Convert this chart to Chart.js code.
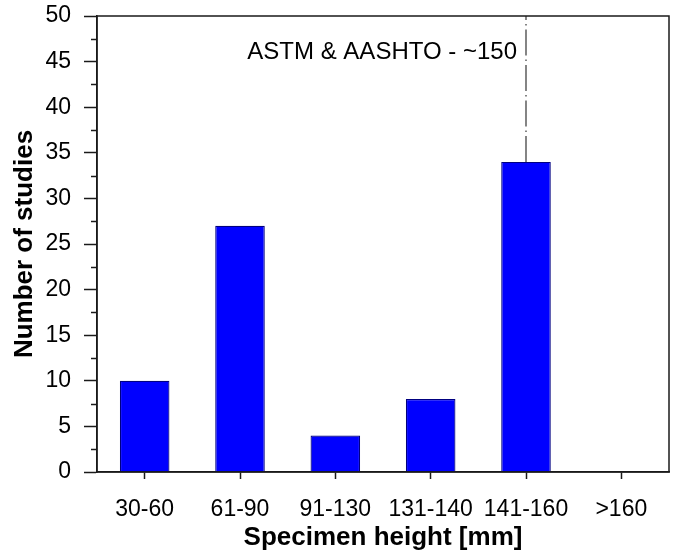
<!DOCTYPE html>
<html>
<head>
<meta charset="utf-8">
<script src="https://cdn.jsdelivr.net/npm/chart.js@4"></script>
<style>
  html, body { margin: 0; padding: 0; background: #fff; }
</style>
</head>
<body>
<canvas id="chart" width="681" height="557"></canvas>
<script>
// --- data ---
const heightClasses = ["30-60", "61-90", "91-130", "131-140", "141-160", ">160"];
const studyCounts = [10, 27, 4, 8, 34, 0];
const yMin = 0;
const yMax = 50;
const yStep = 5;

// standard specimen height marker (dash-dot line above the 141-160 bar)
const standardClass = "141-160";
const standardFrom = 34;
const standardTo = 50;
const standardLabel = "ASTM & AASHTO - ~150";
const standardLabelAt = 46;

const font = "Arial, 'Liberation Sans', sans-serif";
const ink = "#1a1a1a";

const extrasPlugin = {
  id: "extras",
  afterDatasetsDraw(chart) {
    const { ctx, chartArea: a, scales: { x, y } } = chart;
    ctx.save();

    // minor y ticks
    ctx.strokeStyle = ink;
    ctx.lineWidth = 1.5;
    for (let v = yMin + yStep / 2; v < yMax; v += yStep) {
      const py = Math.round(y.getPixelForValue(v)) + 0.5;
      ctx.beginPath();
      ctx.moveTo(a.left - 6, py);
      ctx.lineTo(a.left, py);
      ctx.stroke();
    }

    // dash-dot standard line
    const px = x.getPixelForValue(heightClasses.indexOf(standardClass));
    ctx.strokeStyle = "#444";
    ctx.lineWidth = 1.3;
    ctx.setLineDash([26, 4, 1.5, 4]);
    ctx.beginPath();
    ctx.moveTo(px, y.getPixelForValue(standardFrom));
    ctx.lineTo(px, y.getPixelForValue(standardTo));
    ctx.stroke();
    ctx.setLineDash([]);

    ctx.fillStyle = "#000";
    ctx.font = "24px " + font;
    ctx.textAlign = "right";
    ctx.textBaseline = "middle";
    ctx.fillText(standardLabel, px - 9, y.getPixelForValue(standardLabelAt));

    // frame around plot
    ctx.strokeStyle = ink;
    ctx.lineWidth = 1.5;
    ctx.strokeRect(a.left, a.top, a.right - a.left, a.bottom - a.top);
    ctx.restore();
  }
};

new Chart(document.getElementById("chart"), {
  type: "bar",
  data: {
    labels: heightClasses,
    datasets: [{
      label: "Number of studies",
      data: studyCounts,
      backgroundColor: "#0000ff",
      borderColor: "#000080",
      borderWidth: (c) => (c.raw === 0 ? 0 : 1.2),
      borderSkipped: "bottom",
      barPercentage: 0.52,
      categoryPercentage: 1
    }]
  },
  options: {
    responsive: false,
    animation: false,
    devicePixelRatio: 1,
    layout: { padding: { left: 0, right: 12, top: 16, bottom: 0 } },
    plugins: {
      legend: { display: false },
      tooltip: { enabled: false }
    },
    scales: {
      x: {
        afterFit: (s) => { s.height = 85; s.paddingLeft = 0; s.paddingRight = 0; },
        border: { color: ink, width: 1.5 },
        grid: {
          offset: false,
          drawOnChartArea: false,
          drawTicks: true,
          tickLength: 7,
          tickColor: ink,
          tickWidth: 1.5
        },
        ticks: { color: "#000", font: { family: font, size: 23 }, padding: 17, maxRotation: 0, autoSkip: false },
        title: {
          display: true,
          text: "Specimen height [mm]",
          color: "#000",
          font: { family: font, size: 26, weight: "bold" },
          padding: { top: 0, bottom: 4 }
        }
      },
      y: {
        min: yMin,
        max: yMax,
        afterFit: (s) => { s.width = 97; s.paddingTop = 0; s.paddingBottom = 0; },
        border: { color: ink, width: 1.5 },
        grid: {
          drawOnChartArea: false,
          drawTicks: true,
          tickLength: 13,
          tickColor: ink,
          tickWidth: 1.5
        },
        ticks: { stepSize: yStep, color: "#000", font: { family: font, size: 23 }, padding: 13 },
        title: {
          display: true,
          text: "Number of studies",
          color: "#000",
          font: { family: font, size: 26, weight: "bold" },
          padding: { top: 9, bottom: 0 }
        }
      }
    }
  },
  plugins: [extrasPlugin]
});
</script>
</body>
</html>
